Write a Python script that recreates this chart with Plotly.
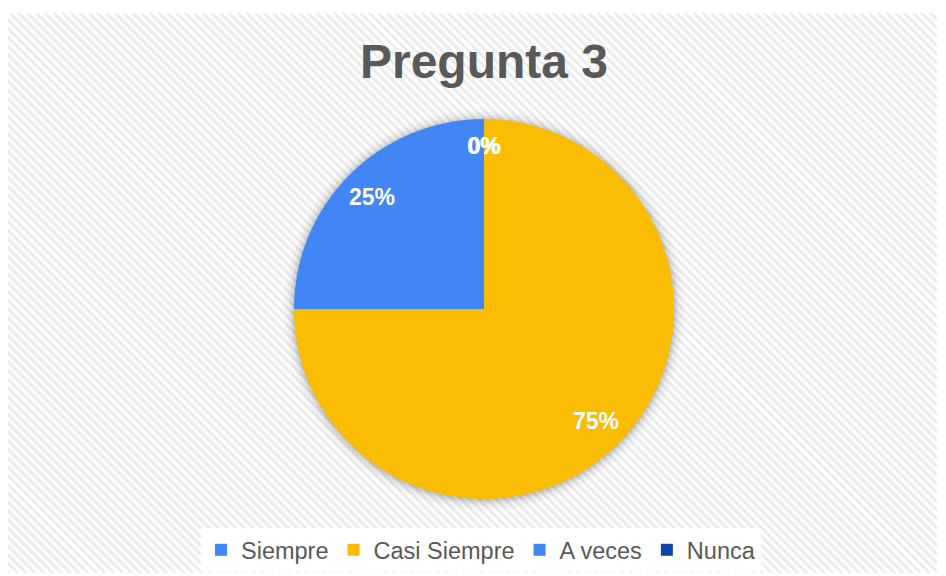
import math
import base64
import plotly.graph_objects as go

# ---- data ----
categories = ["Siempre", "Casi Siempre", "A veces", "Nunca"]
values = [0, 75, 25, 0]
colors = ["#4285F4", "#FBBC04", "#4285F4", "#0D47A8"]
title_text = "Pregunta 3"

# ---- layout constants (page pixels; page body has an 8px margin) ----
OFF = 8
W, H = 946 - OFF, 576 - OFF
CX, CY, R = 484 - OFF, 309 - OFF, 190  # pie centre/radius in figure pixels

# background hatch as inline SVG
bx0, by0, bx1, by1 = 8 - OFF, 13 - OFF, 937 - OFF, 573 - OFF
bw, bh = bx1 - bx0, by1 - by0
svg = f'''<svg xmlns="http://www.w3.org/2000/svg" width="{bw}" height="{bh}" viewBox="0 0 {bw} {bh}">
<defs><pattern id="p" width="6.2" height="6.2" patternUnits="userSpaceOnUse" patternTransform="rotate(-45)">
<rect x="0" y="0" width="6.2" height="6.2" fill="#ffffff"/>
<rect x="0" y="0" width="2.8" height="6.2" fill="#ececec"/>
</pattern></defs>
<rect width="{bw}" height="{bh}" fill="url(#p)"/></svg>'''
svg_uri = "data:image/svg+xml;base64," + base64.b64encode(svg.encode()).decode()

fig = go.Figure()
fig.add_trace(go.Pie(
    labels=categories,
    values=values,
    marker=dict(colors=colors, line=dict(width=0)),
    sort=False,
    direction="clockwise",
    rotation=0,
    textinfo="none",
    hoverinfo="label+percent",
    domain=dict(x=[(CX - R) / W, (CX + R) / W],
                y=[(H - CY - R) / H, (H - CY + R) / H]),
    showlegend=True,
))

# percentage labels positioned from the data
total = sum(values)
annotations = []
cum = 0
for v in values:
    frac = (cum + v / 2) / total
    cum += v
    theta = 2 * math.pi * frac
    k = 0.86 if v == 0 else 0.83
    px = CX + k * R * math.sin(theta)
    py = CY - k * R * math.cos(theta)
    annotations.append(dict(
        x=px / W, y=1 - py / H, xref="paper", yref="paper",
        text=f"<b>{round(100 * v / total)}%</b>", showarrow=False,
        font=dict(family="Liberation Sans, Arial, sans-serif", size=23, color="#ffffff"),
        xanchor="center", yanchor="middle",
    ))

# soft shadow around the pie
shapes = []
for dr, op in [(11, 0.02), (8, 0.03), (5, 0.045), (3, 0.06), (1, 0.08)]:
    r = R + dr
    shapes.append(dict(
        type="circle", xref="paper", yref="paper", layer="below",
        x0=(CX - r) / W, x1=(CX + r) / W,
        y0=(H - CY - r - 1) / H, y1=(H - CY + r - 1) / H,
        fillcolor=f"rgba(0,0,0,{op})", line=dict(width=0),
    ))

fig.update_layout(
    width=W, height=H,
    margin=dict(l=0, r=0, t=0, b=0),
    paper_bgcolor="#ffffff",
    plot_bgcolor="rgba(0,0,0,0)",
    title=dict(
        text=f"<b>{title_text}</b>",
        x=CX / W, xanchor="center", xref="paper",
        y=1 - (61 - OFF) / H, yanchor="middle", yref="paper",
        font=dict(family="Liberation Sans, Arial, sans-serif", size=48, color="#595959"),
    ),
    legend=dict(
        orientation="h",
        x=(481 - OFF) / W, xanchor="center",
        y=1 - (550 - OFF) / H, yanchor="middle",
        bgcolor="#ffffff",
        font=dict(family="Liberation Sans, Arial, sans-serif", size=23.5, color="#595959"),
        itemclick=False, itemdoubleclick=False,
    ),
    images=[dict(
        source=svg_uri, xref="paper", yref="paper",
        x=bx0 / W, y=1 - by0 / H, sizex=bw / W, sizey=bh / H,
        xanchor="left", yanchor="top", sizing="stretch", layer="below",
    )],
    shapes=shapes,
    annotations=annotations,
)

fig.write_html("out.html")
